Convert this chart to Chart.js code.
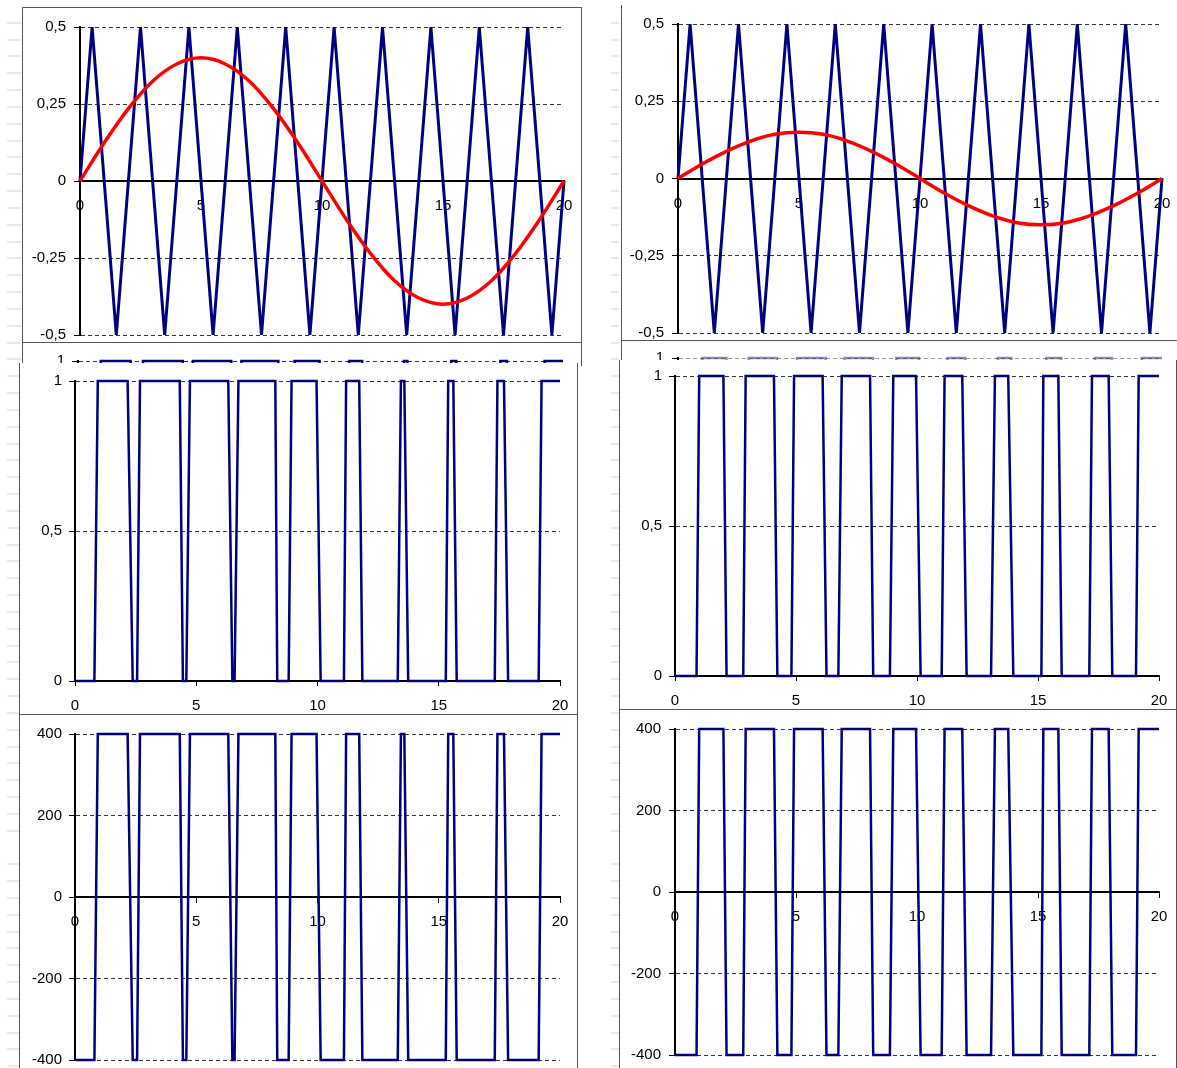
<!DOCTYPE html>
<html>
<head>
<meta charset="utf-8">
<script src="https://cdn.jsdelivr.net/npm/chart.js@4.4.1/dist/chart.umd.min.js"></script>
<style>
html, body { margin: 0; padding: 0; background: #fff; }
#sheet { position: relative; width: 1177px; height: 1068px; overflow: hidden; background: #fff; }
.rows {
    position: absolute; top: 0; height: 1068px;
    background-image: repeating-linear-gradient(to bottom, transparent 0px, transparent 15.83px, #d2d2d2 15.83px, #d2d2d2 16.83px);
    background-position: 0 6.5px;
}
.frame { position: absolute; box-sizing: border-box; background: #fff; border: 1px solid #555; overflow: hidden; }
.frame canvas { position: absolute; left: 0; top: 0; }
</style>
</head>
<body>
<div id="sheet">
    <div class="rows" style="left:7px;width:14px;"></div>
    <div class="rows" style="left:611px;width:8px;"></div>

    <div class="frame" style="left:22px;top:7px;width:560px;height:336px;z-index:3;">
        <canvas id="sawLeft" width="558" height="334"></canvas>
    </div>
    <div class="frame" style="left:621px;top:5px;width:600px;height:336px;border-top:none;border-right:none;z-index:3;">
        <canvas id="sawRight" width="599" height="335"></canvas>
    </div>

    <div class="frame" style="left:22px;top:342px;width:560px;height:24px;border-bottom:none;z-index:1;">
        <canvas id="pulseLeftBack" width="558" height="370"></canvas>
    </div>
    <div class="frame" style="left:621px;top:340px;width:600px;height:24px;border-right:none;border-bottom:none;z-index:1;">
        <canvas id="pulseRightBack" width="599" height="370"></canvas>
    </div>

    <div class="frame" style="left:19px;top:363px;width:559px;height:352px;border-top:none;z-index:2;">
        <canvas id="pulseLeft" width="557" height="351"></canvas>
    </div>
    <div class="frame" style="left:619px;top:360px;width:558px;height:350px;border-top:none;z-index:2;">
        <canvas id="pulseRight" width="556" height="349"></canvas>
    </div>

    <div class="frame" style="left:19px;top:714px;width:559px;height:400px;z-index:4;">
        <canvas id="outLeft" width="557" height="398"></canvas>
    </div>
    <div class="frame" style="left:619px;top:709px;width:558px;height:400px;z-index:4;">
        <canvas id="outRight" width="556" height="398"></canvas>
    </div>
</div>

<script>
// carrier (triangle) vertices
const triX = [0, 0.5, 1.5, 2.5, 3.5, 4.5, 5.5, 6.5, 7.5, 8.5, 9.5, 10.5, 11.5, 12.5, 13.5, 14.5, 15.5, 16.5, 17.5, 18.5, 19.5, 20];
const triY = [0, 0.5, -0.5, 0.5, -0.5, 0.5, -0.5, 0.5, -0.5, 0.5, -0.5, 0.5, -0.5, 0.5, -0.5, 0.5, -0.5, 0.5, -0.5, 0.5, -0.5, 0];

// reference (sine)
const refX = [0, 1, 2, 3, 4, 5, 6, 7, 8, 9, 10, 11, 12, 13, 14, 15, 16, 17, 18, 19, 20];
const refLeft = [0, 0.124, 0.235, 0.324, 0.38, 0.4, 0.38, 0.324, 0.235, 0.124, 0, -0.124, -0.235, -0.324, -0.38, -0.4, -0.38, -0.324, -0.235, -0.124, 0];
const refRight = [0, 0.047, 0.088, 0.121, 0.143, 0.15, 0.143, 0.121, 0.088, 0.047, 0, -0.047, -0.088, -0.121, -0.143, -0.15, -0.143, -0.121, -0.088, -0.047, 0];

// switching instants of the pulse trains, and state (0 = low, 1 = high) at each instant
const pulseLeftX = [0, 0.80, 0.94, 2.17, 2.38, 2.56, 2.68, 4.32, 4.45, 4.59, 4.74, 6.32, 6.49, 6.58, 6.74, 8.26, 8.34, 8.81, 8.93, 9.96,
    10.13, 11.09, 11.18, 11.72, 11.85, 13.31, 13.44, 13.58, 13.74, 15.29, 15.39, 15.60, 15.74, 17.31, 17.42, 17.69, 17.86, 19.12, 19.24, 20];
const pulseRightX = [0, 0.89, 1.00, 2.00, 2.13, 2.82, 2.92, 4.09, 4.23, 4.81, 4.92, 6.10, 6.26, 6.75, 6.89, 8.06, 8.19, 8.88, 9.02, 9.96,
    10.15, 11.02, 11.14, 11.87, 12.05, 13.06, 13.22, 13.77, 13.98, 15.14, 15.22, 15.84, 15.98, 17.12, 17.23, 17.92, 18.07, 19.05, 19.16, 20];
const pulseState = [0, 0, 1, 1, 0, 0, 1, 1, 0, 0, 1, 1, 0, 0, 1, 1, 0, 0, 1, 1,
    0, 0, 1, 1, 0, 0, 1, 1, 0, 0, 1, 1, 0, 0, 1, 1, 0, 0, 1, 1];

const logicLevels = [0, 1];
const voltLevels = [-400, 400];

const xTicks = [0, 5, 10, 15, 20];
const sawTicks = [-0.5, -0.25, 0, 0.25, 0.5];
const logicTicks = [0, 0.5, 1];
const voltTicks = [-400, -200, 0, 200, 400];

Chart.defaults.font.family = "'Liberation Sans', Arial, sans-serif";
Chart.defaults.font.size = 15;
Chart.defaults.color = '#000';

const NAVY = '#000080';

const points = (xs, ys) => xs.map((x, i) => ({ x: x, y: ys[i] }));
const steps = (xs, levels) => xs.map((x, i) => ({ x: x, y: levels[pulseState[i]] }));

function drawPanel(id, cfg) {
    const canvas = document.getElementById(id);
    if (!canvas) return null;
    const ctx = canvas.getContext('2d');
    const yt = cfg.yTicks;
    return new Chart(ctx, {
        type: 'line',
        data: { datasets: cfg.datasets },
        options: {
            responsive: false,
            animation: false,
            devicePixelRatio: 1,
            events: [],
            layout: {
                autoPadding: false,
                padding: { top: cfg.pad[0], right: cfg.pad[1], bottom: cfg.pad[2], left: 0 }
            },
            plugins: { legend: { display: false }, tooltip: { enabled: false } },
            elements: { point: { radius: 0 }, line: { tension: 0 } },
            scales: {
                x: {
                    type: 'linear',
                    min: xTicks[0],
                    max: xTicks[xTicks.length - 1],
                    position: cfg.xAtZero ? { y: 0 } : 'bottom',
                    grid: { drawOnChartArea: false, tickLength: 5, tickColor: '#000', tickWidth: 1 },
                    border: { color: '#000', width: 2 },
                    ticks: { stepSize: xTicks[1] - xTicks[0], padding: 11, maxRotation: 0, autoSkip: false },
                    afterFit: s => {
                        s.paddingLeft = 0;
                        s.paddingRight = 0;
                        if (!cfg.xAtZero) s.height = cfg.xH;
                    }
                },
                y: {
                    type: 'linear',
                    min: yt[0],
                    max: yt[yt.length - 1],
                    grid: { color: cfg.gridColor || '#333', lineWidth: 1, tickLength: 6, tickColor: '#000', tickWidth: 1 },
                    border: { color: '#000', width: 2, dash: [4, 3] },
                    ticks: {
                        stepSize: yt[1] - yt[0],
                        padding: cfg.yPad,
                        callback: v => String(v).replace('.', ',')
                    },
                    afterFit: s => {
                        s.width = cfg.yW;
                        s.paddingTop = 0;
                        s.paddingBottom = 0;
                    }
                }
            }
        }
    });
}

function sawSets(ref) {
    return [
        { data: points(refX, ref), borderColor: '#ff0000', borderWidth: 3.5, cubicInterpolationMode: 'monotone', clip: false },
        { data: points(triX, triY), borderColor: NAVY, borderWidth: 3, clip: false }
    ];
}

function pulseSet(xs, levels, color) {
    return [{ data: steps(xs, levels), borderColor: color || NAVY, borderWidth: 2.5, clip: false }];
}

drawPanel('sawLeft', { datasets: sawSets(refLeft), yTicks: sawTicks, xAtZero: true, pad: [19, 17, 7], yW: 57, yPad: 8 });
drawPanel('sawRight', { datasets: sawSets(refRight), yTicks: sawTicks, xAtZero: true, pad: [19, 59, 7], yW: 56, yPad: 8 });

drawPanel('pulseLeftBack', { datasets: pulseSet(pulseLeftX, logicLevels), yTicks: logicTicks, xAtZero: false, xH: 33, pad: [18, 18, 0], yW: 55, yPad: 7 });
drawPanel('pulseRightBack', { datasets: pulseSet(pulseRightX, logicLevels, 'rgba(0,0,128,0.45)'), yTicks: logicTicks, xAtZero: false, xH: 33, pad: [17, 59, 0], yW: 56, yPad: 8, gridColor: '#999' });

drawPanel('pulseLeft', { datasets: pulseSet(pulseLeftX, logicLevels), yTicks: logicTicks, xAtZero: false, xH: 33, pad: [18, 17, 0], yW: 55, yPad: 7 });
drawPanel('pulseRight', { datasets: pulseSet(pulseRightX, logicLevels), yTicks: logicTicks, xAtZero: false, xH: 33, pad: [16, 17, 0], yW: 55, yPad: 7 });

drawPanel('outLeft', { datasets: pulseSet(pulseLeftX, voltLevels), yTicks: voltTicks, xAtZero: true, pad: [19, 17, 53], yW: 55, yPad: 7 });
drawPanel('outRight', { datasets: pulseSet(pulseRightX, voltLevels), yTicks: voltTicks, xAtZero: true, pad: [19, 17, 53], yW: 55, yPad: 8 });
</script>
</body>
</html>
